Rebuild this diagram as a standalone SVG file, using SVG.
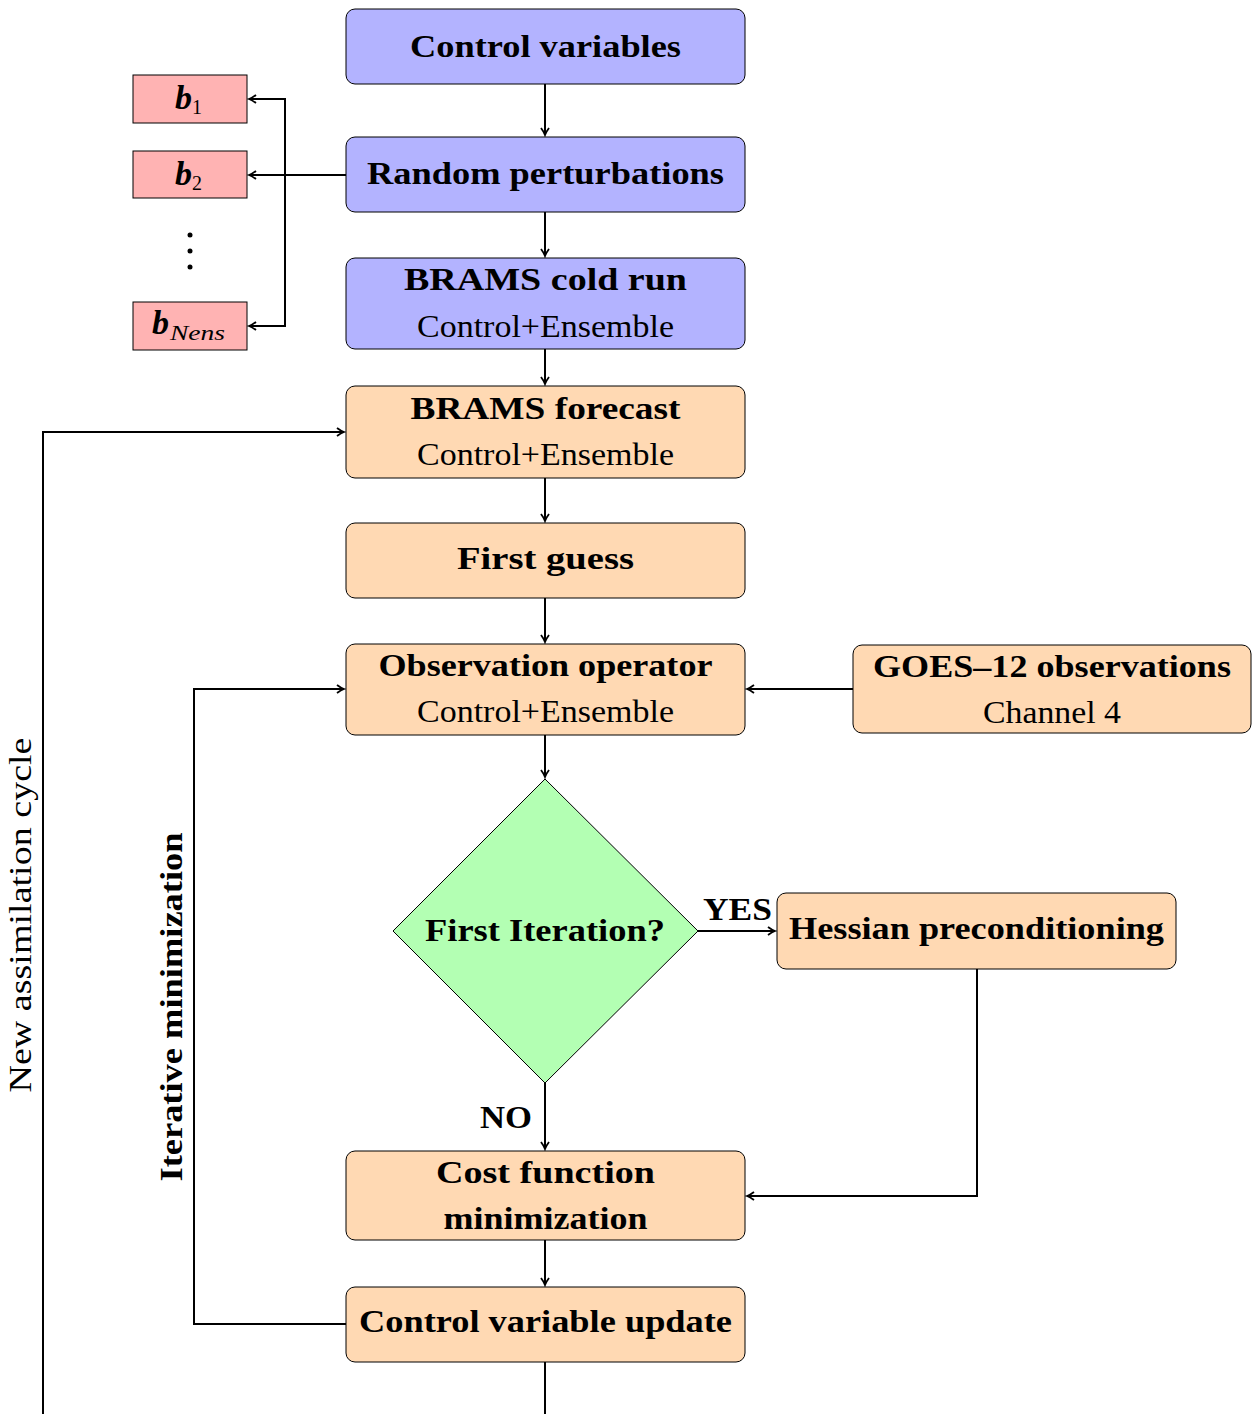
<svg xmlns="http://www.w3.org/2000/svg" width="1253" height="1414" viewBox="0 0 1253 1414">
<style>
.blue{fill:#b3b3ff;stroke:#000;stroke-width:1}
.org{fill:#ffd9b3;stroke:#000;stroke-width:1}
.red{fill:#ffb3b3;stroke:#000;stroke-width:1}
.grn{fill:#b3ffb3;stroke:#000;stroke-width:1}
.b{font-family:"Liberation Serif",serif;font-weight:bold;font-size:31px;text-anchor:middle;fill:#000}
.r{font-family:"Liberation Serif",serif;font-size:31px;text-anchor:middle;fill:#000}
.c{fill:none;stroke:#000;stroke-width:2}
.bi{font-family:"Liberation Serif",serif;font-weight:bold;font-style:italic;font-size:34px;fill:#000}
.sub{font-family:"Liberation Serif",serif;font-weight:normal;font-size:20px;fill:#000}
</style>
<defs>
<marker id="ar" markerWidth="12" markerHeight="12" refX="10" refY="6" orient="auto" markerUnits="userSpaceOnUse">
<path d="M3,2 Q7,5 10,6 Q7,7 3,10" fill="none" stroke="#000" stroke-width="1.8"/>
</marker>
</defs>
<g id="connectors">
<path class="c" d="M545,84 V135" marker-end="url(#ar)"/>
<path class="c" d="M545,212 V256" marker-end="url(#ar)"/>
<path class="c" d="M545,349 V384" marker-end="url(#ar)"/>
<path class="c" d="M545,478 V521" marker-end="url(#ar)"/>
<path class="c" d="M545,598 V642" marker-end="url(#ar)"/>
<path class="c" d="M545,735 V777" marker-end="url(#ar)"/>
<path class="c" d="M545,1083 V1149" marker-end="url(#ar)"/>
<path class="c" d="M545,1240 V1285" marker-end="url(#ar)"/>
<path class="c" d="M545,1362 V1414"/>
<path class="c" d="M698,931 H775" marker-end="url(#ar)"/>
<path class="c" d="M977,969 V1196 H747" marker-end="url(#ar)"/>
<path class="c" d="M853,689 H747" marker-end="url(#ar)"/>
<path class="c" d="M346,1324 H194 V689 H344" marker-end="url(#ar)"/>
<path class="c" d="M43,1414 V432 H344" marker-end="url(#ar)"/>
<path class="c" d="M346,175 H249" marker-end="url(#ar)"/>
<path class="c" d="M285,175 V99 H249" marker-end="url(#ar)"/>
<path class="c" d="M285,175 V326 H249" marker-end="url(#ar)"/>
</g>
<g id="control-variables"><rect class="blue" x="346" y="9" width="399" height="75" rx="9"/><text class="b" x="545.5" y="57" textLength="271" lengthAdjust="spacingAndGlyphs">Control  variables</text></g>
<g id="random-perturbations"><rect class="blue" x="346" y="137" width="399" height="75" rx="9"/><text class="b" x="545.5" y="184" textLength="357" lengthAdjust="spacingAndGlyphs">Random perturbations</text></g>
<g id="brams-cold-run"><rect class="blue" x="346" y="258" width="399" height="91" rx="9"/><text class="b" x="545.5" y="290" textLength="283" lengthAdjust="spacingAndGlyphs">BRAMS  cold  run</text><text class="r" x="545.5" y="337" textLength="257" lengthAdjust="spacingAndGlyphs">Control+Ensemble</text></g>
<g id="brams-forecast"><rect class="org" x="346" y="386" width="399" height="92" rx="9"/><text class="b" x="545.5" y="419" textLength="270" lengthAdjust="spacingAndGlyphs">BRAMS  forecast</text><text class="r" x="545.5" y="465" textLength="257" lengthAdjust="spacingAndGlyphs">Control+Ensemble</text></g>
<g id="first-guess"><rect class="org" x="346" y="523" width="399" height="75" rx="9"/><text class="b" x="545.5" y="569" textLength="177" lengthAdjust="spacingAndGlyphs">First  guess</text></g>
<g id="observation-operator"><rect class="org" x="346" y="644" width="399" height="91" rx="9"/><text class="b" x="545.5" y="676" textLength="334" lengthAdjust="spacingAndGlyphs">Observation operator</text><text class="r" x="545.5" y="722" textLength="257" lengthAdjust="spacingAndGlyphs">Control+Ensemble</text></g>
<g id="goes-observations"><rect class="org" x="853" y="645" width="398" height="88" rx="9"/><text class="b" x="1052" y="677" textLength="358" lengthAdjust="spacingAndGlyphs">GOES–12 observations</text><text class="r" x="1052" y="723" textLength="138" lengthAdjust="spacingAndGlyphs">Channel 4</text></g>
<g id="first-iteration"><path class="grn" d="M545,779 L698,931 L545,1083 L393,931 Z"/><text class="b" x="545" y="941" textLength="240" lengthAdjust="spacingAndGlyphs">First Iteration?</text></g>
<text class="b" x="737.5" y="920" textLength="69" lengthAdjust="spacingAndGlyphs">YES</text>
<g id="hessian-preconditioning"><rect class="org" x="777" y="893" width="399" height="76" rx="9"/><text class="b" x="976.5" y="939" textLength="375" lengthAdjust="spacingAndGlyphs">Hessian preconditioning</text></g>
<text class="b" x="506" y="1128" textLength="52" lengthAdjust="spacingAndGlyphs">NO</text>
<g id="cost-function-minimization"><rect class="org" x="346" y="1151" width="399" height="89" rx="9"/><text class="b" x="545.5" y="1183" textLength="219" lengthAdjust="spacingAndGlyphs">Cost  function</text><text class="b" x="545.5" y="1229" textLength="204" lengthAdjust="spacingAndGlyphs">minimization</text></g>
<g id="control-variable-update"><rect class="org" x="346" y="1287" width="399" height="75" rx="9"/><text class="b" x="545.5" y="1332" textLength="373" lengthAdjust="spacingAndGlyphs">Control variable update</text></g>
<g id="b1"><rect class="red" x="133" y="75" width="114" height="48"/><text class="bi" x="175" y="109">b</text><text class="sub" x="192" y="114">1</text></g>
<g id="b2"><rect class="red" x="133" y="151" width="114" height="47"/><text class="bi" x="175" y="185">b</text><text class="sub" x="192" y="190">2</text></g>
<g id="dots"><circle cx="190" cy="235" r="2.5"/><circle cx="190" cy="251" r="2.5"/><circle cx="190" cy="267" r="2.5"/></g>
<g id="bNens"><rect class="red" x="133" y="302" width="114" height="48"/><text class="bi" x="152" y="334">b</text><text class="sub" x="170" y="340" font-style="italic" textLength="55" lengthAdjust="spacingAndGlyphs">Nens</text></g>
<text class="r" transform="translate(31,915) rotate(-90)" textLength="355" lengthAdjust="spacingAndGlyphs">New assimilation cycle</text>
<text class="b" transform="translate(182,1007) rotate(-90)" textLength="349" lengthAdjust="spacingAndGlyphs">Iterative minimization</text>
</svg>
